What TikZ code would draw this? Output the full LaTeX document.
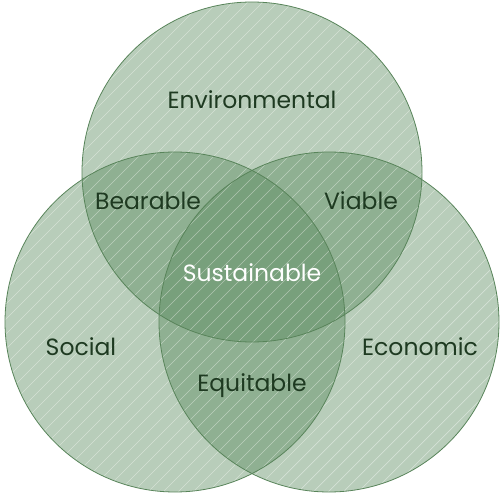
\documentclass[tikz,border=0pt]{standalone}
\usepackage{fontspec}
\setmainfont{Poppins}
\definecolor{circfill}{RGB}{90,138,94}
\definecolor{circline}{RGB}{88,132,90}
\definecolor{labeltext}{RGB}{30,58,33}
\begin{document}
\begin{tikzpicture}[x=1pt,y=-1pt,
  venn/.style={circle,inner sep=0pt,outer sep=0pt,minimum size=340pt,fill=circfill,fill opacity=0.43},
  rim/.style={draw=circline,line width=0.8pt},
  lbl/.style={font=\fontsize{23.5}{28}\selectfont,text=labeltext,inner sep=0pt,anchor=base},
  hatch/.style={white,line width=0.7pt,opacity=0.4}]
\useasboundingbox (0,0) rectangle (501,500);
\node[venn] (env) at (252,172) {};
\node[venn] (soc) at (175,322) {};
\node[venn] (eco) at (329,322) {};
\begin{scope}
\clip (252,172) circle (170pt) (175,322) circle (170pt) (329,322) circle (170pt);
\foreach \k in {-520,-505,...,520}
  \draw[hatch] (\k,500) -- (\k+500,0);
\end{scope}
\draw[rim] (env.center) circle (170pt);
\draw[rim] (soc.center) circle (170pt);
\draw[rim] (eco.center) circle (170pt);
\node[lbl] (lenv) at (252,109) {Environmental};
\node[lbl] (lbea) at (148,209) {Bearable};
\node[lbl] (lvia) at (361,209) {Viable};
\node[lbl,text=white] (lsus) at (252,281) {Sustainable};
\node[lbl] (lsoc) at (81,355) {Social};
\node[lbl] (leco) at (420,355) {Economic};
\node[lbl] (lequ) at (252,391) {Equitable};
\end{tikzpicture}
\end{document}
